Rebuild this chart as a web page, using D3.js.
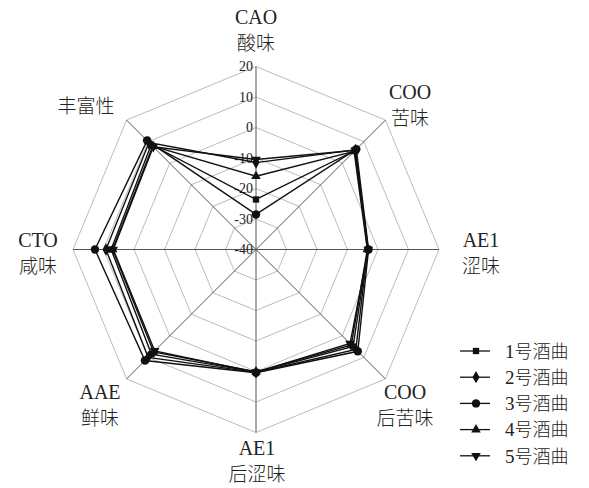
<!DOCTYPE html>
<html>
<head>
<meta charset="utf-8">
<script src="https://cdn.jsdelivr.net/npm/d3@7"></script>
<style>
  html, body { margin: 0; padding: 0; background: #fff; }
  svg { display: block; }
  text { font-family: "Liberation Serif", "Times New Roman", "Noto Sans CJK SC", serif; fill: #222; }
</style>
</head>
<body>
<svg id="chart" width="589" height="488"></svg>
<script>
// Axis names (code + taste), clockwise from the top
const axisCodes = ["CAO", "COO", "AE1", "COO", "AE1", "AAE", "CTO", ""];
const axisNames = ["酸味", "苦味", "涩味", "后苦味", "后涩味", "鲜味", "咸味", "丰富性"];

// Radial tick values
const tickValues = [20, 10, 0, -10, -20, -30, -40];

// Series
const seriesNames = ["1号酒曲", "2号酒曲", "3号酒曲", "4号酒曲", "5号酒曲"];
const seriesSymbols = ["square", "diamond", "circle", "triangle", "triangleDown"];
const s1 = [-23.6, 5.8, -3.3, 5.0, 0.2, 8.5, 7.5, 8.6];
const s2 = [-11.5, 6.2, -3.4, 6.3, 0.3, 10.0, 9.2, 9.6];
const s3 = [-28.5, 6.5, -3.1, 7.2, 0.4, 11.5, 12.8, 10.5];
const s4 = [-16.0, 5.5, -3.5, 4.2, 0.1, 7.5, 7.0, 7.9];
const s5 = [-10.5, 6.0, -3.2, 3.6, 0.2, 7.0, 6.8, 7.6];
const seriesValues = [s1, s2, s3, s4, s5];

const svg = d3.select("#chart");
const cx = 256, cy = 249.5, R = 183;
const n = axisNames.length;

const r = d3.scaleLinear().domain([-40, 20]).range([0, R]);
const angle = i => (Math.PI * 2 * i) / n; // 0 = up, clockwise
const pt = (i, v) => [cx + r(v) * Math.sin(angle(i)), cy - r(v) * Math.cos(angle(i))];

const g = svg.append("g");

// Grid octagons
const ringLevels = tickValues.filter(v => v > -40);
g.selectAll("polygon.grid")
  .data(ringLevels)
  .join("polygon")
  .attr("class", "grid")
  .attr("points", v => d3.range(n).map(i => pt(i, v).join(",")).join(" "))
  .attr("fill", "none")
  .attr("stroke", "#b4b4b4")
  .attr("stroke-width", 0.9);

// Spokes
g.selectAll("line.spoke")
  .data(d3.range(n))
  .join("line")
  .attr("class", "spoke")
  .attr("x1", cx).attr("y1", cy)
  .attr("x2", i => pt(i, 20)[0])
  .attr("y2", i => pt(i, 20)[1])
  .attr("stroke", "#555")
  .attr("stroke-width", 1);

// Tick labels along the top spoke
g.selectAll("text.tick")
  .data(tickValues)
  .join("text")
  .attr("class", "tick")
  .attr("x", cx - 3)
  .attr("y", v => cy - r(v))
  .attr("dy", "0.35em")
  .attr("text-anchor", "end")
  .attr("font-size", 14)
  .attr("fill", "#444")
  .text(v => v);

// Series lines
const line = d3.line().curve(d3.curveLinearClosed);
const symTypes = {
  square: d3.symbolSquare,
  diamond: d3.symbolDiamond,
  circle: d3.symbolCircle,
  triangle: d3.symbolTriangle,
  triangleDown: d3.symbolTriangle
};
const symSize = { square: 40, diamond: 44, circle: 56, triangle: 40, triangleDown: 40 };

seriesValues.forEach((vals, si) => {
  const pts = vals.map((v, i) => pt(i, v));
  g.append("path")
    .attr("d", line(pts))
    .attr("fill", "none")
    .attr("stroke", "#111")
    .attr("stroke-width", 1.4);
});
seriesValues.forEach((vals, si) => {
  const type = seriesSymbols[si];
  g.selectAll(null)
    .data(vals.map((v, i) => pt(i, v)))
    .join("path")
    .attr("d", d3.symbol().type(symTypes[type]).size(symSize[type]))
    .attr("transform", d => `translate(${d[0]},${d[1]})` + (type === "triangleDown" ? " rotate(180)" : ""))
    .attr("fill", "#111");
});

// Axis labels
const labelPos = [
  [256, 24], [410, 99], [481, 247], [405, 399],
  [257, 455], [100, 399], [38, 247], [86, 113]
];
const cjk = '"Noto Sans CJK SC", sans-serif';
labelPos.forEach(([x, y], i) => {
  if (axisCodes[i]) {
    svg.append("text").attr("x", x).attr("y", y)
      .attr("text-anchor", "middle").attr("font-size", 20)
      .text(axisCodes[i]);
    svg.append("text").attr("x", x).attr("y", y + 26)
      .attr("text-anchor", "middle").attr("font-size", 19)
      .style("font-family", cjk).style("font-weight", 300)
      .text(axisNames[i]);
  } else {
    svg.append("text").attr("x", x).attr("y", y)
      .attr("text-anchor", "middle").attr("font-size", 19)
      .style("font-family", cjk).style("font-weight", 300)
      .text(axisNames[i]);
  }
});

// Legend
const lg = svg.append("g").attr("transform", "translate(460,351)");
seriesNames.forEach((name, si) => {
  const y = si * 26.2;
  const type = seriesSymbols[si];
  lg.append("line").attr("x1", 0).attr("x2", 30).attr("y1", y).attr("y2", y)
    .attr("stroke", "#111").attr("stroke-width", 1.3);
  lg.append("path")
    .attr("d", d3.symbol().type(symTypes[type]).size(symSize[type]))
    .attr("transform", `translate(16,${y})` + (type === "triangleDown" ? " rotate(180)" : ""))
    .attr("fill", "#111");
  const t = lg.append("text").attr("x", 45).attr("y", y).attr("dy", "0.36em").attr("font-size", 19);
  t.append("tspan").text(name.slice(0, 1));
  t.append("tspan").style("font-family", cjk).style("font-weight", 300).attr("font-size", 18).text(name.slice(1));
});
</script>
</body>
</html>
